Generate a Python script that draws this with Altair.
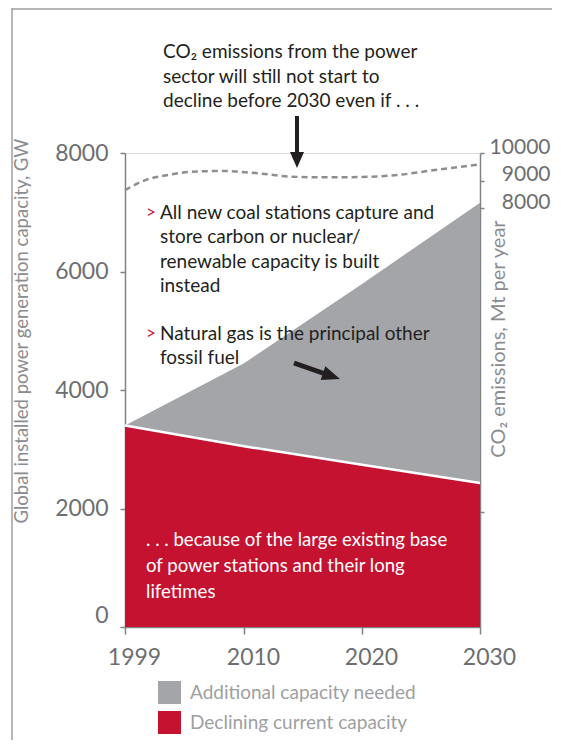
import altair as alt
import pandas as pd

# ---------------- data ----------------
years = [1999, 2010, 2020, 2030]
declining_current = [3400, 3050, 2740, 2430]       # GW, red area top
total_capacity = [3400, 4450, 5790, 7160]          # GW, grey area top

co2_years = [1999, 2001, 2003, 2005, 2008, 2011, 2014, 2017, 2020, 2023, 2026, 2030]
co2_values = [8650, 9030, 9200, 9315, 9345, 9270, 9140, 9115, 9130, 9200, 9370, 9590]

series_names = ["Additional capacity needed", "Declining current capacity"]
series_colors = ["#a3a5a8", "#c41230"]

x_ticks = [1999, 2010, 2020, 2030]
left_ticks = [0, 2000, 4000, 6000, 8000]
right_ticks = [-3054, 8000, 9000, 10000]

left_title = "Global installed power generation capacity, GW"
right_title = "CO\u2082 emissions, Mt per year"
top_note = ["CO\u2082 emissions from the power",
            "sector will still not start to",
            "decline before 2030 even if . . ."]
note_coal = ["All new coal stations capture and",
             "store carbon or nuclear/",
             "renewable capacity is built",
             "instead"]
note_gas = ["Natural gas is the principal other",
            "fossil fuel"]
note_base = [". . . because of the large existing base",
             "of power stations and their long",
             "lifetimes"]

# ---------------- tables ----------------
rows = []
for yr, d, t in zip(years, declining_current, total_capacity):
    rows.append({"year": yr, "series": series_names[0], "lo": d, "hi": t})
    rows.append({"year": yr, "series": series_names[1], "lo": 0, "hi": d})
areas_df = pd.DataFrame(rows)
red_top_df = pd.DataFrame({"year": years, "v": declining_current})
co2_df = pd.DataFrame({"year": co2_years, "co2": co2_values})
one = pd.DataFrame({"k": [0]})

FONT = "Lato"
AX = "#808285"
LBL = "#6d6e71"
TXT = "#231f20"

xscale = alt.Scale(domain=[1999, 2010, 2030], range=[0, 119, 355], nice=False, zero=False)
yscale = alt.Scale(domain=[0, 8000], nice=False, zero=False)
y2scale = alt.Scale(domain=[-7236, 10000], nice=False, zero=False)

x_axis = alt.Axis(values=x_ticks, format="d", title=None, labelFont=FONT, labelFontSize=23,
                  labelColor=LBL, labelOffset=9, labelPadding=12, tickSize=7, tickColor=AX,
                  tickWidth=1.5, domainColor=AX, domainWidth=1.5, grid=False, labelFlush=False)
left_axis = alt.Axis(values=left_ticks, format="d", title=None, orient="left", labelFont=FONT,
                     labelFontSize=23, labelColor=LBL, tickSize=5, tickColor=AX, tickWidth=1.5,
                     domainColor=AX, domainWidth=1.5, grid=False, labelPadding=12, labelOverlap=False,
                     labelBaseline={"condition": {"test": "datum.value == 0", "value": "bottom"},
                                    "value": "middle"})
right_axis = alt.Axis(values=right_ticks, format="d", title=None, orient="right", labelFont=FONT,
                      labelFontSize=21, labelColor=LBL, tickSize=4, tickColor=AX, tickWidth=1.5,
                      domainColor=AX, domainWidth=1.5, grid=False, labelAlign="right",
                      labelPadding=66, labelOffset=-6, labelOverlap=False,
                      labelExpr="datum.value >= 8000 ? datum.label : ''")

legend = alt.Legend(orient="none", legendX=33, legendY=528, title=None, symbolType="square",
                    symbolSize=529, symbolStrokeWidth=0, symbolOpacity=1, labelFont=FONT,
                    labelFontSize=19, labelColor="#9d9fa2", rowPadding=7, labelOffset=9, padding=0,
                    labelLimit=0)

area = alt.Chart(areas_df).mark_area(opacity=1).encode(
    x=alt.X("year:Q", scale=xscale, axis=x_axis),
    y=alt.Y("hi:Q", scale=yscale, axis=left_axis, stack=None),
    y2="lo:Q",
    color=alt.Color("series:N", scale=alt.Scale(domain=series_names, range=series_colors), legend=legend),
)

red_top = alt.Chart(red_top_df).mark_line(color="white", strokeWidth=2.5).encode(
    x=alt.X("year:Q", scale=xscale),
    y=alt.Y("v:Q", scale=yscale, axis=None),
)

co2_line = alt.Chart(co2_df).mark_line(color="#8c8e91", strokeWidth=2.5, strokeDash=[6, 4],
                                        interpolate="monotone").encode(
    x=alt.X("year:Q", scale=xscale),
    y=alt.Y("co2:Q", scale=y2scale, axis=right_axis),
)


def note(lines, x, y, color, size, lh, **kw):
    return alt.Chart(one).mark_text(text=lines, align="left", baseline="middle", font=FONT,
                                    fontSize=size, lineHeight=lh, color=color, **kw).encode(
        x=alt.value(x), y=alt.value(y))


def marker(x, y):
    return alt.Chart(one).mark_text(text=">", align="left", baseline="middle", font=FONT,
                                    fontSize=17, color="#c41230").encode(x=alt.value(x), y=alt.value(y))


layers = [
    area, red_top, co2_line,
    note(top_note, 38, -101, TXT, 19, 24.5),
    note(note_coal, 35, 60, TXT, 19, 24.3),
    marker(21, 60),
    note(note_gas, 35, 181, TXT, 19, 24.3),
    marker(21, 181),
    note(note_base, 21, 387, "white", 18.6, 26),
    alt.Chart(one).mark_text(text=left_title, angle=270, align="center", baseline="middle", font=FONT,
                             fontSize=18.5, color="#8a8c8f").encode(x=alt.value(-103), y=alt.value(178)),
    alt.Chart(one).mark_text(text=right_title, angle=270, align="center", baseline="middle", font=FONT,
                             fontSize=20, color="#8a8c8f").encode(x=alt.value(374), y=alt.value(186)),
    # arrows
    alt.Chart(one).mark_rule(color=TXT, strokeWidth=4).encode(
        x=alt.value(172), y=alt.value(-37), y2=alt.value(0)),
    alt.Chart(one).mark_point(shape="M-0.875,-1L0.875,-1L0,1Z", filled=True, size=256, opacity=1,
                              color=TXT, strokeWidth=0).encode(x=alt.value(172), y=alt.value(7)),
    alt.Chart(one).mark_rule(color=TXT, strokeWidth=5).encode(
        x=alt.value(169), y=alt.value(210), x2=alt.value(199), y2=alt.value(220.5)),
    alt.Chart(one).mark_point(shape="M-1,-0.8L1,0L-1,0.8Z", filled=True, size=324, opacity=1,
                              color=TXT, strokeWidth=0, angle=19).encode(x=alt.value(206.5), y=alt.value(223)),
    # frame
    alt.Chart(one).mark_rule(color="#9d9fa2", strokeWidth=1.5).encode(
        x=alt.value(-113), y=alt.value(-145), y2=alt.value(600)),
    alt.Chart(one).mark_rule(color="#9d9fa2", strokeWidth=1.5).encode(
        x=alt.value(-113), x2=alt.value(440), y=alt.value(-144)),
]

chart = alt.layer(*layers).resolve_scale(y="independent").properties(
    width=355, height=474,
    autosize=alt.AutoSizeParams(type="none"),
    padding={"left": 117, "top": 145, "right": 72, "bottom": 113},
).configure_view(stroke=None).configure(background="white")

chart.save("out.html", embed_options={"renderer": "svg", "actions": False})
